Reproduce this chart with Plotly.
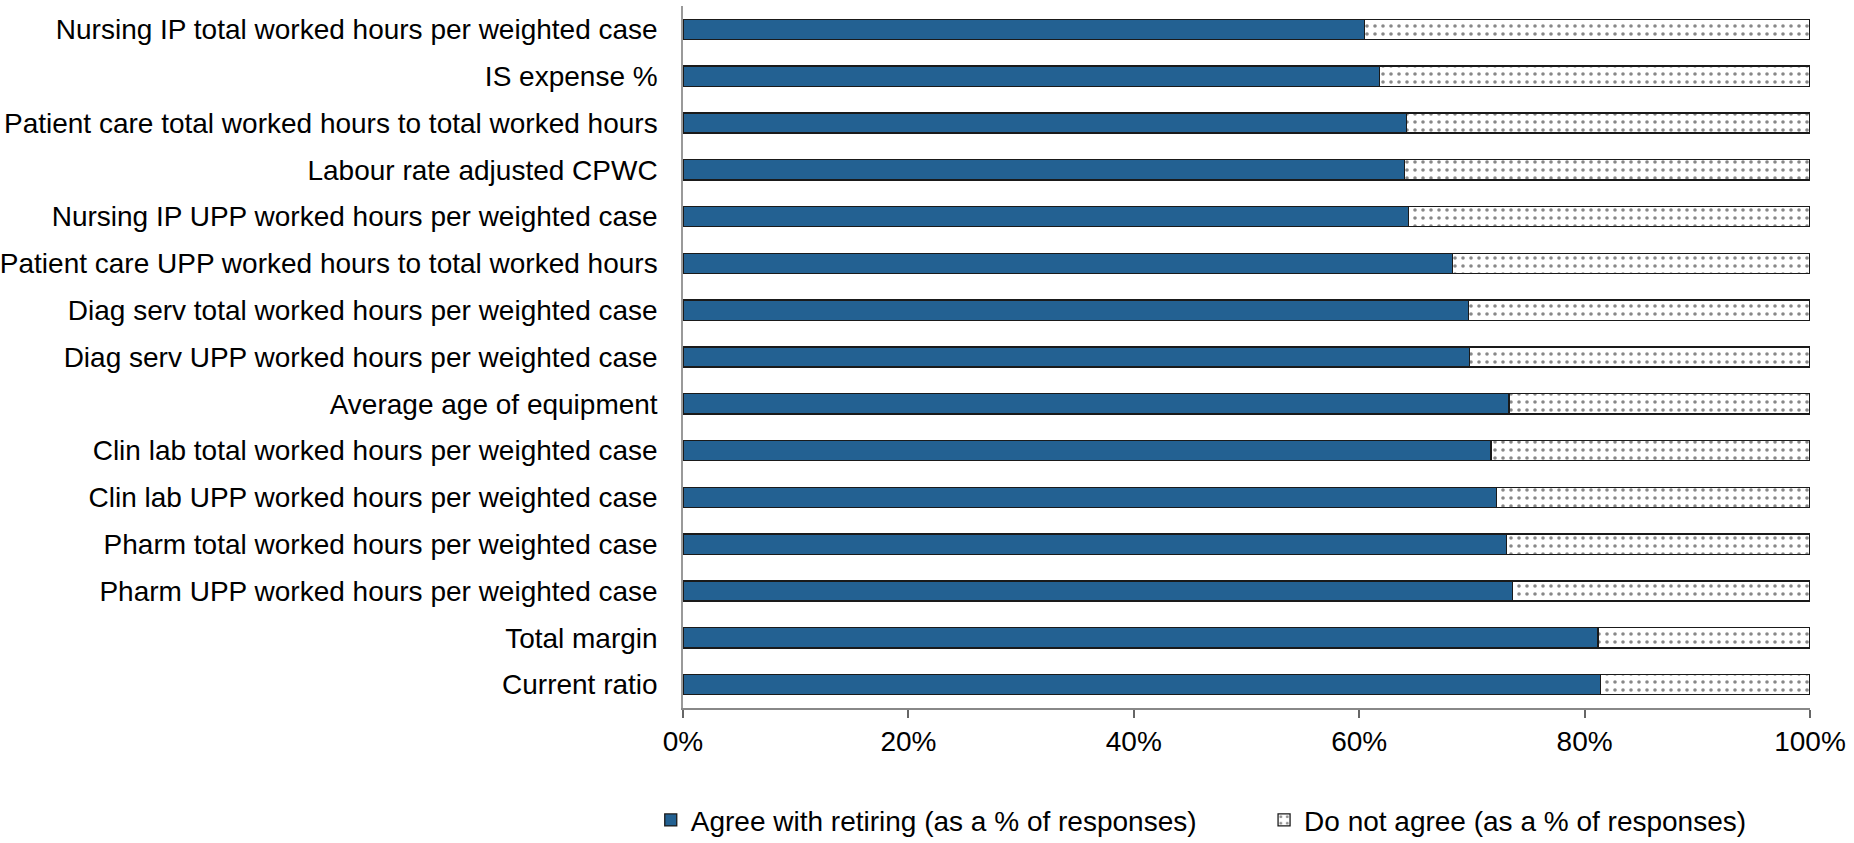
import plotly.graph_objects as go

categories = [
    "Nursing IP total worked hours per weighted case",
    "IS expense %",
    "Patient care total worked hours to total worked hours",
    "Labour rate adjusted CPWC",
    "Nursing IP UPP worked hours per weighted case",
    "Patient care UPP worked hours to total worked hours",
    "Diag serv total worked hours per weighted case",
    "Diag serv UPP worked hours per weighted case",
    "Average age of equipment",
    "Clin lab total worked hours per weighted case",
    "Clin lab UPP worked hours per weighted case",
    "Pharm total worked hours per weighted case",
    "Pharm UPP worked hours per weighted case",
    "Total margin",
    "Current ratio",
]
agree = [60.5, 61.8, 64.2, 64.0, 64.4, 68.3, 69.7, 69.8,
         73.3, 71.7, 72.2, 73.1, 73.6, 81.2, 81.4]
disagree = [39.5, 38.2, 35.8, 36.0, 35.6, 31.7, 30.3, 30.2,
            26.7, 28.3, 27.8, 26.9, 26.4, 18.8, 18.6]
x_ticks = [0, 20, 40, 60, 80, 100]
x_tick_labels = ["0%", "20%", "40%", "60%", "80%", "100%"]

font = "Liberation Sans, Arial, sans-serif"

fig = go.Figure()
fig.add_trace(go.Bar(
    y=categories, x=agree, orientation="h",
    name="Agree with retiring (as a % of responses)",
    marker=dict(color="#236192", line=dict(color="#1a1a1a", width=1.3)),
    legend="legend",
))
fig.add_trace(go.Bar(
    y=categories, x=disagree, orientation="h",
    name="Do not agree (as a % of responses)",
    marker=dict(
        color="white",
        line=dict(color="#1a1a1a", width=1.3),
        pattern=dict(shape=".", fgcolor="#111111", bgcolor="white",
                     size=8, solidity=0.16),
    ),
    legend="legend2",
))

# one legend per series so each entry sits where the reference puts it
legend_common = dict(
    orientation="h", xref="container", yref="container",
    xanchor="left", y=0.027, yanchor="middle",
    font=dict(size=28), bgcolor="rgba(0,0,0,0)",
)

fig.update_layout(
    barmode="stack",
    bargap=0.57,
    width=1854, height=843,
    margin=dict(l=683, r=44, t=6, b=135, autoexpand=False),
    plot_bgcolor="white", paper_bgcolor="white",
    font=dict(family=font, size=28, color="black"),
    showlegend=True,
    legend=dict(legend_common, x=0.351),
    legend2=dict(legend_common, x=0.6818),
)
fig.update_xaxes(
    range=[0, 100], tickvals=x_ticks, ticktext=x_tick_labels,
    showgrid=False, zeroline=False,
    showline=True, linecolor="#888888", linewidth=1.5,
    ticks="outside", ticklen=8, tickcolor="#666666", tickwidth=1.5,
)
fig.update_yaxes(
    autorange="reversed", showgrid=False, zeroline=False,
    showline=True, linecolor="#999999", linewidth=1.5,
    ticks="", ticklabelstandoff=18,
)

fig.write_html("out.html", config={"displayModeBar": False},
               post_script="document.body.style.margin='0';")
